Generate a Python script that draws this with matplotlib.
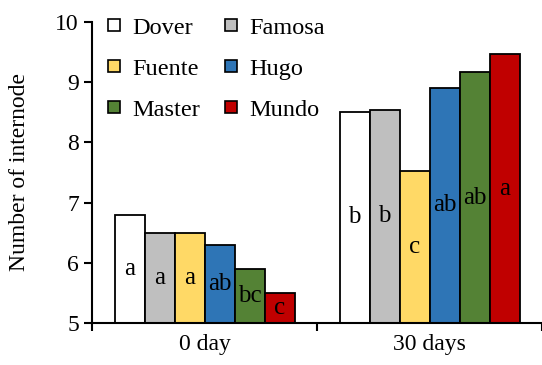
import numpy as np
import matplotlib.pyplot as plt
from matplotlib.lines import Line2D

plt.rcParams['font.family'] = ['Liberation Serif', 'DejaVu Serif']

# DATA

groups = ["0 day", "30 days"]
cultivars = ["Dover", "Famosa", "Fuente", "Hugo", "Master", "Mundo"]
colors = ["#FFFFFF", "#BFBFBF", "#FFD966", "#2E75B6", "#548235", "#C00000"]

day0 = [6.8, 6.5, 6.5, 6.3, 5.9, 5.5]
day30 = [8.51, 8.54, 7.53, 8.91, 9.16, 9.46]

letters0 = ["a", "a", "a", "ab", "bc", "c"]
letters30 = ["b", "b", "c", "ab", "ab", "a"]

values = [day0, day30]
letters = [letters0, letters30]

# PLOT

fig = plt.figure(figsize=(5.42, 3.65), dpi=100)
ax = fig.add_axes([0.17, 0.115, 0.83, 0.825])

base = 5
width = 0.8 / len(cultivars)
x = np.arange(len(groups))

for i, name in enumerate(cultivars):
    pos = x - 0.4 + width * (i + 0.5)
    h = [values[g][i] - base for g in range(len(groups))]
    ax.bar(pos, h, width, bottom=base, color=colors[i],
           edgecolor="black", linewidth=1.3, zorder=2)
    for g in range(len(groups)):
        ax.text(pos[g], base + h[g] / 2, letters[g][i],
                ha="center", va="center", fontsize=18, zorder=3)

ax.set_xlim(-0.5, 1.5)
ax.set_ylim(5, 10)
ax.set_yticks(range(5, 11))
ax.tick_params(axis="y", labelsize=17, length=6, width=1.5, direction="out")
ax.set_xticks(x)
ax.set_xticklabels(groups, fontsize=17)
ax.tick_params(axis="x", length=0, pad=8)
ax.set_xticks([-0.5, 0.5, 1.5], minor=True)
ax.tick_params(axis="x", which="minor", length=6, width=1.5, direction="out")
ax.set_ylabel("Number of internode", fontsize=17, labelpad=18)

for s in ["top", "right"]:
    ax.spines[s].set_visible(False)
for s in ["left", "bottom"]:
    ax.spines[s].set_linewidth(1.5)

# legend filled row by row like the original
order = [0, 2, 4, 1, 3, 5]
handles = [Line2D([], [], marker="s", linestyle="", markersize=8,
                  markerfacecolor=colors[k], markeredgecolor="black",
                  markeredgewidth=1.2) for k in order]
ax.legend(handles, [cultivars[k] for k in order], ncol=2, loc="upper left",
          bbox_to_anchor=(0.01, 1.05), frameon=False, fontsize=17.5,
          handlelength=0.6, handletextpad=0.45, columnspacing=1.0,
          labelspacing=0.78, borderaxespad=0.0)

plt.savefig("out.png", dpi=100)
